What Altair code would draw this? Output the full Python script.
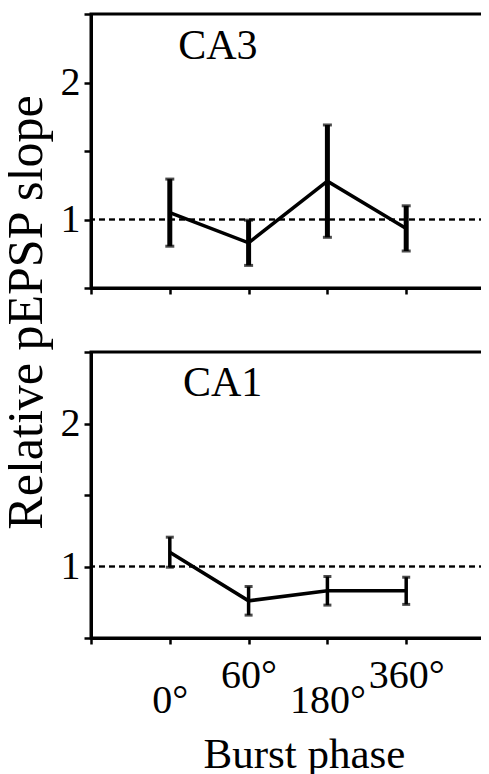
import json
import altair as alt
import pandas as pd

phase_pos = [1, 2, 3, 4]
tick_labels = ["", "0°", "60°", "180°", "360°", ""]

ca3_mean = [1.05, 0.83, 1.28, 0.935]
ca3_err = [0.245, 0.165, 0.41, 0.165]
ca1_mean = [1.10, 0.76, 0.83, 0.83]
ca1_err = [0.105, 0.10, 0.10, 0.095]

FONT = "Liberation Serif"


def panel(mean, err, name, label_xy, height, bar_w, cap_w, bottom, ytitle):
    df = pd.DataFrame({
        "x": phase_pos,
        "y": mean,
        "lo": [m - e for m, e in zip(mean, err)],
        "hi": [m + e for m, e in zip(mean, err)],
    })
    xaxis = alt.Axis(
        values=list(range(len(tick_labels))),
        labelExpr=json.dumps(tick_labels) + "[datum.value]",
        labels=bottom,
        title="Burst phase" if bottom else None,
        grid=False, domainWidth=3, domainColor="black",
        tickColor="black", tickWidth=2.5, tickSize=6,
        labelFont=FONT, labelColor="black",
        labelFontSize={"condition": {"test": "datum.value >= 1 && datum.value <= 4", "value": 40}, "value": 0},
        labelBaseline="top", labelOverlap=False, labelFlush=False, labelBound=False,
        labelPadding={"condition": {"test": "datum.value == 1 || datum.value == 3", "value": 36}, "value": 11},
        titleFont=FONT, titleFontSize=43, titleFontWeight="normal", titleColor="black",
        titleX=213, titleY=129, titleBaseline="alphabetic", titleAlign="center",
    )
    yargs = dict(
        values=[0.5, 1, 1.5, 2, 2.5],
        labelExpr="datum.value == 1 ? '1' : datum.value == 2 ? '2' : ''",
        grid=False, domainWidth=3, domainColor="black",
        tickColor="black", tickWidth=2.5, tickSize=7,
        labelFont=FONT, labelColor="black", labelPadding=4,
        labelFontSize={"condition": {"test": "datum.value == 1 || datum.value == 2", "value": 40}, "value": 0},
        labelBaseline="middle",
    )
    if ytitle:
        yaxis = alt.Axis(
            title="Relative pEPSP slope",
            titleFont=FONT, titleFontSize=50, titleFontWeight="normal", titleColor="black",
            titleX=-50, titleY=298, titleAngle=-90, titleBaseline="alphabetic", titleAlign="center",
            **yargs)
    else:
        yaxis = alt.Axis(title=None, **yargs)

    xs = alt.Scale(domain=[0, 5], nice=False, zero=False)
    ys = alt.Scale(domain=[0.5, 2.5], nice=False, zero=False)

    base = alt.Chart(df)
    ref = base.mark_rule(color="black", strokeWidth=1.5, strokeDash=[6, 4]).encode(
        y=alt.datum(1, scale=ys, axis=yaxis, type="quantitative")
    )
    line = base.mark_line(color="black", strokeWidth=3.5).encode(
        x=alt.X("x:Q", scale=xs, axis=xaxis),
        y=alt.Y("y:Q", scale=ys, axis=yaxis),
    )
    bars = base.mark_rule(color="black", strokeWidth=bar_w).encode(
        x="x:Q", y="lo:Q", y2="hi:Q"
    )
    cap_lo = base.mark_tick(color="black", orient="horizontal", size=cap_w, thickness=3).encode(
        x="x:Q", y="lo:Q"
    )
    cap_hi = base.mark_tick(color="black", orient="horizontal", size=cap_w, thickness=3).encode(
        x="x:Q", y="hi:Q"
    )
    txt = alt.Chart(pd.DataFrame({"t": [name]})).mark_text(
        font=FONT, fontSize=42, color="black", align="center", baseline="alphabetic"
    ).encode(
        x=alt.datum(label_xy[0], type="quantitative"),
        y=alt.datum(label_xy[1], type="quantitative"),
        text="t:N",
    )
    return alt.layer(ref, line, bars, cap_lo, cap_hi, txt).properties(
        width=394, height=height,
    )


top = panel(ca3_mean, ca3_err, "CA3", (1.61, 2.17), 274, 5, 9, False, True)
bot = panel(ca1_mean, ca1_err, "CA1", (1.67, 2.19), 286, 3.5, 8, True, False)

chart = alt.vconcat(top, bot, spacing=64, bounds="flush").properties(
    padding={"left": -9, "top": 3, "right": -7, "bottom": 0},
    background="white",
).configure_view(stroke="black", strokeWidth=3)

chart.save("out.html", embed_options={"renderer": "svg", "actions": False})
